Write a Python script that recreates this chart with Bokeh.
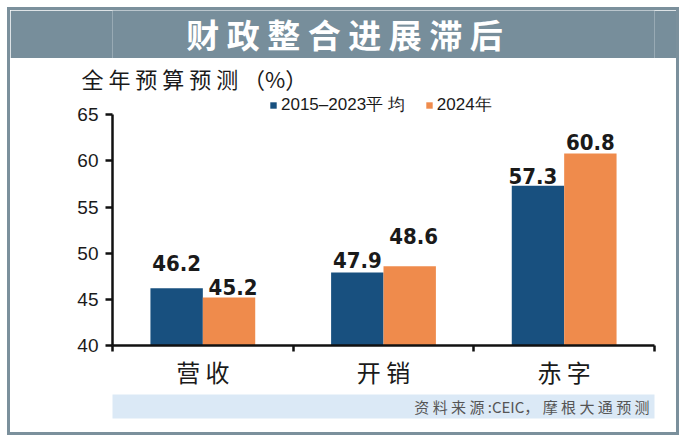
from bokeh.plotting import figure
from bokeh.layouts import column
from bokeh.models import (ColumnDataSource, Range1d, LinearAxis, FixedTicker,
                          Legend, LegendItem, Label, Title)
from bokeh.transform import dodge
from bokeh.core.properties import value
from bokeh.embed import file_html
from bokeh.resources import INLINE

# ---------------- data ----------------
categories = ["营收", "开销", "赤字"]
category_labels = ["营 收", "开 销", "赤 字"]
avg_2015_2023 = [46.2, 47.9, 57.3]
forecast_2024 = [45.2, 48.6, 60.8]
series_names = ["2015–2023平 均", "2024年"]
y_ticks = [40, 45, 50, 55, 60, 65]
title_text = "财 政 整 合 进 展 滞 后"
subtitle_text = "全 年 预 算 预 测 （%）"
source_text = "资 料 来 源 :CEIC， 摩 根 大 通 预 测"

# ---------------- styles ----------------
BLUE = "#18507f"
ORANGE = "#ef8b4c"
FRAME = "#7b909c"
BAND = "#778e9b"
FOOT = "#dbe9f6"
INNER_W = 666
LEFT_B, RIGHT_B = 102, 22
BAR_W = 0.29
Y_AXIS_MIN, Y_AXIS_MAX, Y_VIEW_TOP = 40, 65, 67.2   # headroom above axis for legend
lift_avg = [25, 13, 10]
lift_fc = [11, 30, 12]
nudge_avg = [0, 0, -5]
nudge_fc = [4, 4, 0]

n = len(categories)
centers = [i + 0.5 for i in range(n)]


def blank(height, bg, border, **kw):
    f = figure(width=INNER_W, height=height, output_backend="svg",
               toolbar_location=None, x_axis_location=None,
               y_axis_location=None, title=None,
               x_range=Range1d(0, 1), y_range=Range1d(0, 1),
               min_border_left=LEFT_B, min_border_right=RIGHT_B, **kw)
    f.xgrid.visible = False
    f.ygrid.visible = False
    f.outline_line_color = None
    f.background_fill_color = bg
    f.border_fill_color = border
    return f


# ---- title band ----
tf = blank(48, BAND, BAND, min_border_top=0, min_border_bottom=0)
tf.add_layout(Label(x=232, y=25, x_units="screen", y_units="screen",
                    text=title_text, text_align="center",
                    text_baseline="middle", text_font="Noto Sans CJK SC",
                    text_font_style="bold", text_font_size="33px",
                    text_color="white"))

# ---- main chart ----
p = figure(x_range=Range1d(0, n), y_range=Range1d(Y_AXIS_MIN, Y_VIEW_TOP),
           width=INNER_W, height=336, output_backend="svg",
           toolbar_location=None, x_axis_location=None, title=None,
           min_border_left=LEFT_B, min_border_right=RIGHT_B,
           min_border_top=33, min_border_bottom=49)
p.outline_line_color = None
p.xgrid.visible = False
p.ygrid.visible = False
p.background_fill_color = "white"
p.border_fill_color = "white"

src_avg = ColumnDataSource(dict(xc=centers, val=avg_2015_2023,
                                txt=[f"{v:.1f}" for v in avg_2015_2023],
                                dy=[-d for d in lift_avg], dx=nudge_avg))
src_fc = ColumnDataSource(dict(xc=centers, val=forecast_2024,
                               txt=[f"{v:.1f}" for v in forecast_2024],
                               dy=[-d for d in lift_fc], dx=nudge_fc))

r_avg = p.vbar(x=dodge("xc", -BAR_W / 2), top="val", width=BAR_W,
               bottom=Y_AXIS_MIN, source=src_avg, fill_color=BLUE,
               line_color=None)
r_fc = p.vbar(x=dodge("xc", BAR_W / 2), top="val", width=BAR_W,
              bottom=Y_AXIS_MIN, source=src_fc, fill_color=ORANGE,
              line_color=None)

for src, off in ((src_avg, -BAR_W / 2), (src_fc, BAR_W / 2)):
    p.text(x=dodge("xc", off), y="val", text="txt", source=src,
           x_offset="dx", y_offset="dy", text_align="center",
           text_baseline="alphabetic",
           text_font=value("DejaVu Sans Condensed"), text_font_style="bold",
           text_font_size="22px", text_color="#1a1a1a")

ya = p.yaxis[0]
ya.ticker = FixedTicker(ticks=y_ticks)
ya.bounds = (Y_AXIS_MIN, Y_AXIS_MAX)
ya.axis_line_width = 2.5
ya.axis_line_color = "#111111"
ya.major_tick_line_width = 2.5
ya.major_tick_line_color = "#111111"
ya.major_tick_out = 7
ya.major_tick_in = 0
ya.minor_tick_line_color = None
ya.major_label_standoff = 7
ya.major_label_text_font = "Liberation Sans"
ya.major_label_text_font_size = "19px"
ya.major_label_text_color = "#1a1a1a"

bounds = list(range(n + 1))
bounds_axis = LinearAxis(ticker=FixedTicker(ticks=bounds),
                         axis_line_width=2.5, axis_line_color="#111111",
                         major_tick_line_width=2.5,
                         major_tick_line_color="#111111",
                         major_tick_out=6, major_tick_in=0,
                         minor_tick_line_color=None,
                         major_label_overrides={b: "" for b in bounds},
                         major_label_standoff=0)
cat_axis = LinearAxis(ticker=FixedTicker(ticks=centers),
                      axis_line_color=None, major_tick_line_color=None,
                      minor_tick_line_color=None,
                      major_tick_out=0, major_tick_in=0,
                      major_label_standoff=2,
                      major_label_overrides=dict(zip(centers, category_labels)),
                      major_label_text_font="Noto Sans CJK SC",
                      major_label_text_font_size="24px",
                      major_label_text_color="#1a1a1a")
p.add_layout(bounds_axis, "below")
p.add_layout(cat_axis, "below")

p.add_layout(Title(text=subtitle_text, align="left", offset=-31, standoff=2,
                   text_font="Noto Sans CJK SC", text_font_style="normal",
                   text_font_size="22px", text_color="#1a1a1a"), "above")

legend = Legend(items=[LegendItem(label=series_names[0], renderers=[r_avg]),
                       LegendItem(label=series_names[1], renderers=[r_fc])],
                orientation="horizontal", location=(157, 229),
                glyph_width=8, glyph_height=8, label_standoff=4, spacing=20,
                padding=0, margin=0, border_line_color=None,
                background_fill_alpha=0, label_text_font="Liberation Sans",
                label_text_font_size="17px", label_text_color="#1a1a1a")
p.add_layout(legend, "center")

# ---- footer band ----
ff = blank(38, FOOT, "white", min_border_top=0, min_border_bottom=14)
ff.add_layout(Label(x=537, y=12, x_units="screen", y_units="screen",
                    text=source_text, text_align="right",
                    text_baseline="middle", text_font="Noto Sans CJK SC",
                    text_font_size="15px", text_color="#555555"))

layout = column(tf, p, ff, spacing=0,
                styles={"border": f"3px solid {FRAME}",
                        "box-sizing": "content-box",
                        "transform": "translate(7px, 7px)"})

open("out.html", "w").write(file_html(layout, INLINE))
